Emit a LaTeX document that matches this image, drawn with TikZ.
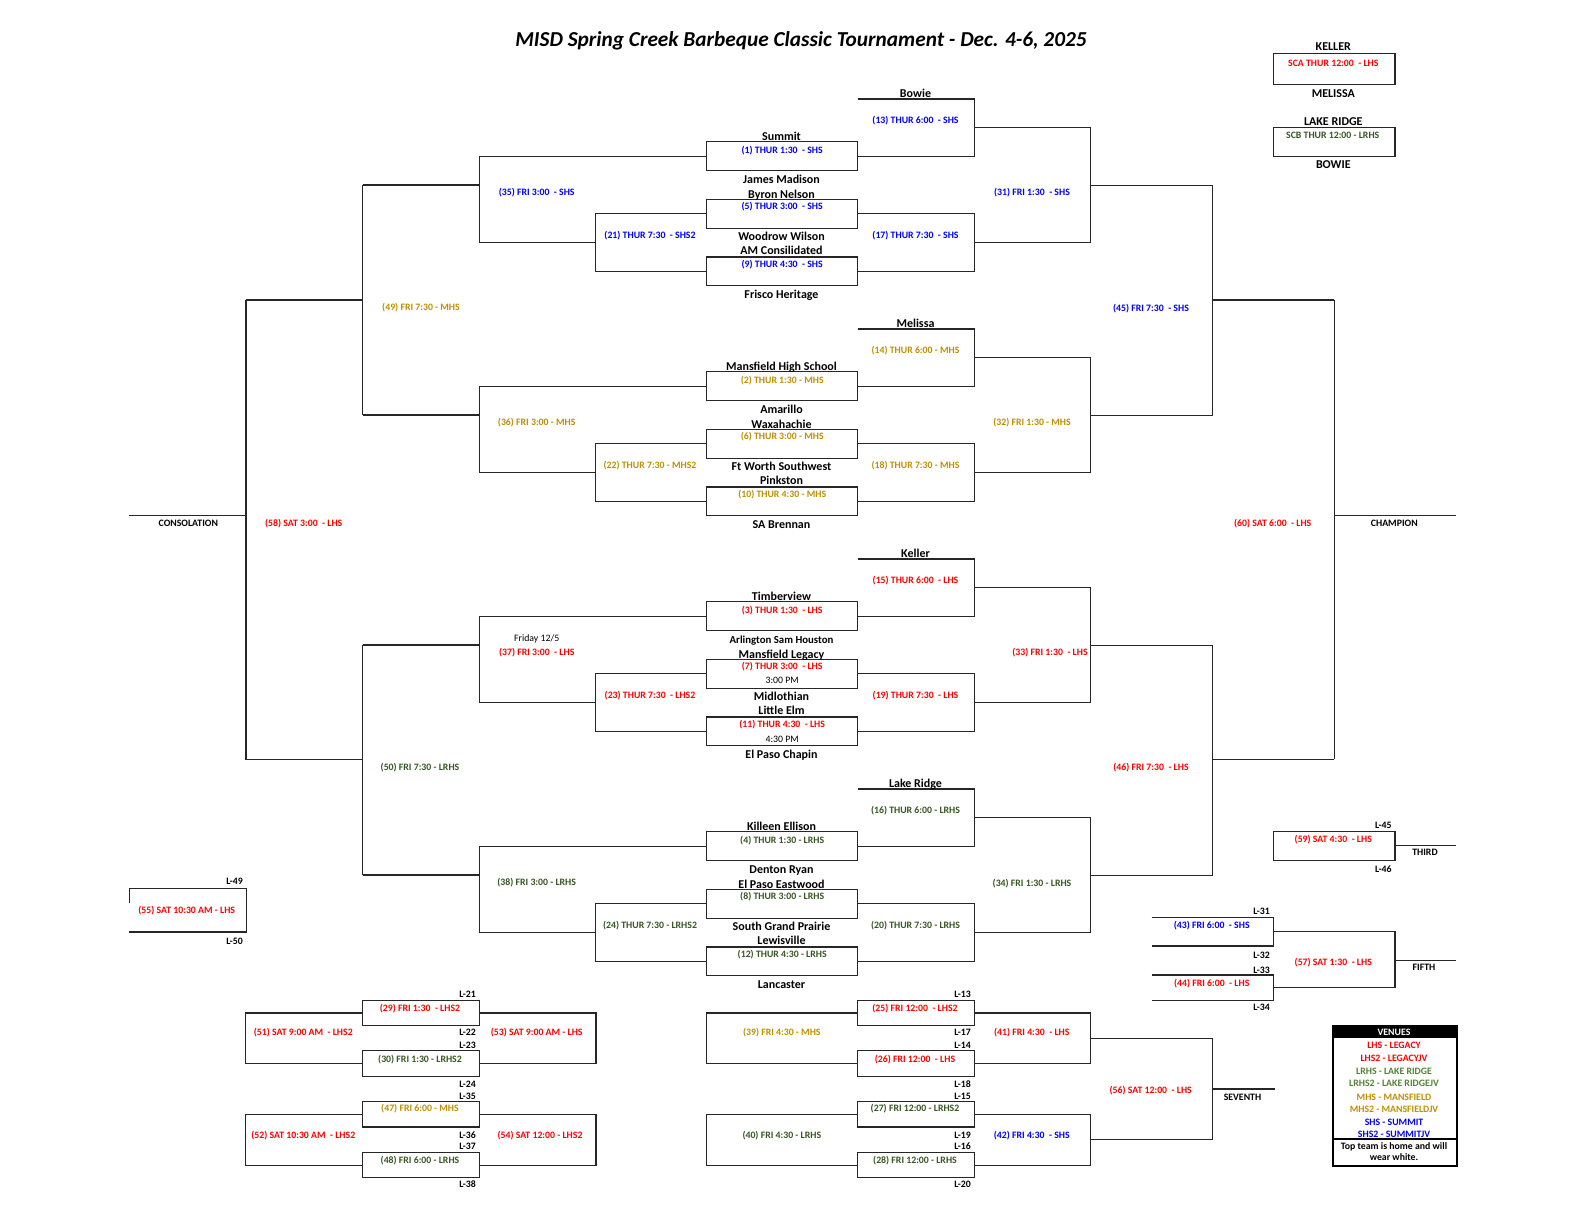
\documentclass[tikz,border=0pt]{standalone}
\usepackage{fontspec}
\setmainfont{Carlito}
\definecolor{cblue}{HTML}{0000FF}
\definecolor{cred}{HTML}{FF0000}
\definecolor{cgold}{HTML}{BF9000}
\definecolor{cgreen}{HTML}{385723}
\definecolor{cgreenl}{HTML}{548235}
\tikzset{
  br/.style={line width=0.55pt, black!85},
  bx/.style={line width=0.65pt, black!85},
  gl/.style={font=\fontsize{4.9}{6}\selectfont\bfseries, inner sep=0pt, text height=3.2pt, text depth=0pt},
  gr/.style={font=\fontsize{4.9}{6}\selectfont, inner sep=0pt, text height=3.2pt, text depth=0pt},
  tm/.style={font=\fontsize{6.0}{7}\selectfont\bfseries, inner sep=0pt, text height=3.9pt, text depth=0pt},
  lb/.style={gl, anchor=east},
}
\begin{document}
\begin{tikzpicture}[x=0.5pt,y=-0.5pt]
\useasboundingbox (0,0) rectangle (1584,1224);
\fill[white] (0,0) rectangle (1584,1224);

% title
\node[font=\fontsize{10.65}{12}\selectfont\bfseries\itshape, inner sep=0pt, text height=6.8pt, text depth=0pt] (title) at (801,39.4) {MISD Spring Creek Barbeque Classic Tournament - Dec. 4-6, 2025};

% ---------- quadrant structure ----------
\foreach \Q in {0,230,460,690} {
  \draw[bx] (706.8,141.7+\Q) rectangle (857.6,170.7+\Q);
  \draw[bx] (706.8,199.3+\Q) rectangle (857.6,228.3+\Q);
  \draw[bx] (706.8,257+\Q) rectangle (857.6,285.7+\Q);
  % right round 2
  \draw[br] (857.6,99+\Q) -- (974.2,99+\Q) -- (974.2,156.2+\Q) -- (857.6,156.2+\Q);
  \draw[br] (974.2,127.7+\Q) -- (1090.7,127.7+\Q);
  \draw[br] (857.6,213.8+\Q) -- (974.2,213.8+\Q) -- (974.2,271.3+\Q) -- (857.6,271.3+\Q);
  \draw[br] (974.2,242.6+\Q) -- (1090.7,242.6+\Q);
  \draw[br] (1090.7,127.7+\Q) -- (1090.7,242.6+\Q);
  \draw[br] (1090.7,185.3+\Q) -- (1212.5,185.3+\Q);
  % left round 2
  \draw[br] (706.8,213.8+\Q) -- (595.8,213.8+\Q) -- (595.8,271.3+\Q) -- (706.8,271.3+\Q);
  \draw[br] (595.8,242.6+\Q) -- (479.3,242.6+\Q);
  \draw[br] (706.8,156.2+\Q) -- (479.3,156.2+\Q) -- (479.3,242.6+\Q);
  \draw[br] (479.3,185+\Q) -- (362.5,185+\Q);
}
% level 3 / finals
\draw[br] (362.5,185) -- (362.5,415);
\draw[br] (362.5,300) -- (246,300);
\draw[br] (362.5,645) -- (362.5,875);
\draw[br] (362.5,759.7) -- (246,759.7);
\draw[br] (246,300) -- (246,759.7);
\draw[br] (246,515.4) -- (129.3,515.4);
\draw[br] (1212.5,185.3) -- (1212.5,415.3);
\draw[br] (1212.5,300) -- (1334.3,300);
\draw[br] (1212.5,645.3) -- (1212.5,875.3);
\draw[br] (1212.5,759.4) -- (1334.3,759.4);
\draw[br] (1334.3,300) -- (1334.3,759.4);
\draw[br] (1334.3,515.5) -- (1456,515.5);

% ---------- quadrant 1 (SHS) ----------
\node[tm] (tA0) at (915.5,93.8) {Bowie};
\node[gl,text=cblue] (g13) at (915.5,120.7) {(13) THUR 6:00~ - SHS};
\node[tm] (tA1) at (781.5,136.7) {Summit};
\node[gl,text=cblue] (g1) at (782.2,150) {(1) THUR 1:30~ - SHS};
\node[tm] (tA2) at (781.5,180) {James Madison};
\node[tm] (tA3) at (781.5,194.3) {Byron Nelson};
\node[gl,text=cblue] (g5) at (782.2,206.7) {(5) THUR 3:00~ - SHS};
\node[tm] (tA4) at (781.5,236.7) {Woodrow Wilson};
\node[tm] (tA5) at (781.5,251) {AM Consilidated};
\node[gl,text=cblue] (g9) at (782.2,264.3) {(9) THUR 4:30~ - SHS};
\node[tm] (tA6) at (781.5,295) {Frisco Heritage};
\node[gl,text=cblue] (g21) at (650,235.7) {(21) THUR 7:30~ - SHS2};
\node[gl,text=cblue] (g17) at (915.5,235.7) {(17) THUR 7:30~ - SHS};
\node[gl,text=cblue] (g35) at (536.7,192.7) {(35) FRI 3:00~ - SHS};
\node[gl,text=cblue] (g31) at (1032,192.8) {(31) FRI 1:30~ - SHS};

% ---------- quadrant 2 (MHS) ----------
\node[tm] (tB0) at (915.5,323.8) {Melissa};
\node[gl,text=cgold] (g14) at (915.5,350.7) {(14) THUR 6:00 - MHS};
\node[tm] (tB1) at (781.5,366.7) {Mansfield High School};
\node[gl,text=cgold] (g2) at (782.2,380) {(2) THUR 1:30 - MHS};
\node[tm] (tB2) at (781.5,410) {Amarillo};
\node[tm] (tB3) at (781.5,424.3) {Waxahachie};
\node[gl,text=cgold] (g6) at (782.2,436.7) {(6) THUR 3:00 - MHS};
\node[tm] (tB4) at (781.5,466.7) {Ft Worth Southwest};
\node[tm] (tB5) at (781.5,481) {Pinkston};
\node[gl,text=cgold] (g10) at (782.2,494.3) {(10) THUR 4:30 - MHS};
\node[tm] (tB6) at (781.5,525) {SA Brennan};
\node[gl,text=cgold] (g22) at (650,465.7) {(22) THUR 7:30 - MHS2};
\node[gl,text=cgold] (g18) at (915.5,465.7) {(18) THUR 7:30 - MHS};
\node[gl,text=cgold] (g36) at (536.7,422.7) {(36) FRI 3:00 - MHS};
\node[gl,text=cgold] (g32) at (1032,422.8) {(32) FRI 1:30 - MHS};

% ---------- quadrant 3 (LHS) ----------
\node[tm] (tC0) at (915.5,553.8) {Keller};
\node[gl,text=cred] (g15) at (915.5,580.7) {(15) THUR 6:00~ - LHS};
\node[tm] (tC1) at (781.5,596.7) {Timberview};
\node[gl,text=cred] (g3) at (782.2,610) {(3) THUR 1:30~ - LHS};
\node[tm,font=\fontsize{5.4}{6.5}\selectfont\bfseries] (tC2) at (781.5,640) {Arlington Sam Houston};
\node[tm] (tC3) at (781.5,654.3) {Mansfield Legacy};
\node[gl,text=cred] (g7) at (782.2,666.7) {(7) THUR 3:00~ - LHS};
\node[gr] (pm7) at (782.2,680.7) {3:00 PM};
\node[tm] (tC4) at (781.5,696.7) {Midlothian};
\node[tm] (tC5) at (781.5,711) {Little Elm};
\node[gl,text=cred] (g11) at (782.2,724.3) {(11) THUR 4:30~ - LHS};
\node[gr] (pm11) at (782.2,739) {4:30 PM};
\node[tm] (tC6) at (781.5,755) {El Paso Chapin};
\node[gl,text=cred] (g23) at (650,695.7) {(23) THUR 7:30~ - LHS2};
\node[gl,text=cred] (g19) at (915.5,695.7) {(19) THUR 7:30~ - LHS};
\node[gr] (fri) at (536.7,637.9) {Friday 12/5};
\node[gl,text=cred] (g37) at (536.7,651.8) {(37) FRI 3:00~ - LHS};
\node[gl,text=cred] (g33) at (1050,651.9) {(33) FRI 1:30~ - LHS};

% ---------- quadrant 4 (LRHS) ----------
\node[tm] (tD0) at (915.5,783.8) {Lake Ridge};
\node[gl,text=cgreen] (g16) at (915.5,810.7) {(16) THUR 6:00 - LRHS};
\node[tm] (tD1) at (781.5,826.7) {Killeen Ellison};
\node[gl,text=cgreen] (g4) at (782.2,840) {(4) THUR 1:30 - LRHS};
\node[tm] (tD2) at (781.5,870) {Denton Ryan};
\node[tm] (tD3) at (781.5,884.3) {El Paso Eastwood};
\node[gl,text=cgreen] (g8) at (782.2,896.7) {(8) THUR 3:00 - LRHS};
\node[tm] (tD4) at (781.5,926.7) {South Grand Prairie};
\node[tm] (tD5) at (781.5,941) {Lewisville};
\node[gl,text=cgreen] (g12) at (782.2,954.3) {(12) THUR 4:30 - LRHS};
\node[tm] (tD6) at (781.5,985) {Lancaster};
\node[gl,text=cgreen] (g24) at (650,925.7) {(24) THUR 7:30 - LRHS2};
\node[gl,text=cgreen] (g20) at (915.5,925.7) {(20) THUR 7:30 - LRHS};
\node[gl,text=cgreen] (g38) at (536.7,882.7) {(38) FRI 3:00 - LRHS};
\node[gl,text=cgreen] (g34) at (1032,882.8) {(34) FRI 1:30 - LRHS};

% ---------- level 3 labels ----------
\node[gl,text=cgold] (g49) at (421,307.5) {(49) FRI 7:30 - MHS};
\node[gl,text=cgreen] (g50) at (420,767) {(50) FRI 7:30 - LRHS};
\node[gl,text=cblue] (g45) at (1151,307.9) {(45) FRI 7:30~ - SHS};
\node[gl,text=cred] (g46) at (1151,767) {(46) FRI 7:30~ - LHS};
\node[gl,text=cred] (g58) at (303.7,522.9) {(58) SAT 3:00~ - LHS};
\node[gl,text=cred] (g60) at (1272.7,523) {(60) SAT 6:00~ - LHS};
\node[gl] (cons) at (188.3,522.9) {CONSOLATION};
\node[gl] (champ) at (1394.3,523) {CHAMPION};

% ---------- game 55 ----------
\draw[br] (129.3,903) -- (129.3,888.7) -- (246.3,888.7) -- (246.3,932) -- (129.3,932);
\node[gl,text=cred] (g55) at (186.7,910.7) {(55) SAT 10:30 AM - LHS};
\node[lb] (l49) at (243.3,881.7) {L-49};
\node[lb] (l50) at (243.3,941) {L-50};

% ---------- bottom left consolation ----------
\draw[bx] (362.3,1000.3) rectangle (479.3,1025.3);
\draw[bx] (362.3,1050.7) rectangle (479.3,1076.3);
\draw[bx] (362.3,1101.7) rectangle (479.3,1127);
\draw[bx] (362.3,1152.3) rectangle (479.3,1177.7);
\draw[br] (362.3,1013) -- (245.7,1013) -- (245.7,1063.5) -- (362.3,1063.5);
\draw[br] (479.3,1013) -- (596,1013) -- (596,1063.5) -- (479.3,1063.5);
\draw[br] (362.3,1114.3) -- (245.7,1114.3) -- (245.7,1165.3) -- (362.3,1165.3);
\draw[br] (479.3,1114.3) -- (596,1114.3) -- (596,1165.3) -- (479.3,1165.3);
\node[gl,text=cred] (g29) at (420,1008) {(29) FRI 1:30~ - LHS2};
\node[gl,text=cgreen] (g30) at (420,1059.3) {(30) FRI 1:30 - LRHS2};
\node[gl,text=cgold] (g47) at (420,1108.7) {(47) FRI 6:00 - MHS};
\node[gl,text=cgreen] (g48) at (420,1160.3) {(48) FRI 6:00 - LRHS};
\node[gl,text=cred] (g51) at (303.3,1032.7) {(51) SAT 9:00 AM~ - LHS2};
\node[gl,text=cred] (g53) at (536.7,1032.7) {(53) SAT 9:00 AM - LHS};
\node[gl,text=cred] (g52) at (303.3,1135) {(52) SAT 10:30 AM~ - LHS2};
\node[gl,text=cred] (g54) at (540,1135) {(54) SAT 12:00 - LHS2};
\node[lb] (l21) at (476.3,994.7) {L-21};
\node[lb] (l22) at (476.3,1032.7) {L-22};
\node[lb] (l23) at (476.3,1045.7) {L-23};
\node[lb] (l24) at (476.3,1084) {L-24};
\node[lb] (l35) at (476.3,1096.7) {L-35};
\node[lb] (l36) at (476.3,1135) {L-36};
\node[lb] (l37) at (476.3,1146.7) {L-37};
\node[lb] (l38) at (476.3,1184.7) {L-38};

% ---------- bottom middle consolation ----------
\draw[bx] (857.5,1000.3) rectangle (974.3,1025.3);
\draw[bx] (857.5,1050.7) rectangle (974.3,1076.3);
\draw[bx] (857.5,1101.7) rectangle (974.3,1127);
\draw[bx] (857.5,1152.3) rectangle (974.3,1177.7);
\draw[br] (857.5,1013) -- (706.8,1013) -- (706.8,1063.5) -- (857.5,1063.5);
\draw[br] (974.3,1013) -- (1090.4,1013) -- (1090.4,1063.5) -- (974.3,1063.5);
\draw[br] (857.5,1114.3) -- (706.8,1114.3) -- (706.8,1165.3) -- (857.5,1165.3);
\draw[br] (974.3,1114.3) -- (1090.4,1114.3) -- (1090.4,1165.3) -- (974.3,1165.3);
\draw[br] (1090.4,1038.3) -- (1212.5,1038.3) -- (1212.5,1139.8) -- (1090.4,1139.8);
\draw[br] (1212.5,1089) -- (1275,1089);
\node[gl,text=cred] (g25) at (915,1008) {(25) FRI 12:00~ - LHS2};
\node[gl,text=cred] (g26) at (915,1059.3) {(26) FRI 12:00~ - LHS};
\node[gl,text=cgreen] (g27) at (915,1108.7) {(27) FRI 12:00 - LRHS2};
\node[gl,text=cgreen] (g28) at (915,1160.3) {(28) FRI 12:00 - LRHS};
\node[gl,text=cgold] (g39) at (781.8,1032.7) {(39) FRI 4:30 - MHS};
\node[gl,text=cgreen] (g40) at (781.8,1135) {(40) FRI 4:30 - LRHS};
\node[gl,text=cred] (g41) at (1031.8,1032.7) {(41) FRI 4:30~ - LHS};
\node[gl,text=cblue] (g42) at (1031.8,1135) {(42) FRI 4:30~ - SHS};
\node[gl,text=cred] (g56) at (1150.7,1090) {(56) SAT 12:00~ - LHS};
\node[gl] (sev) at (1242.5,1097) {SEVENTH};
\node[lb] (l13) at (971.3,994.7) {L-13};
\node[lb] (l17) at (971.3,1032.7) {L-17};
\node[lb] (l14) at (971.3,1045.7) {L-14};
\node[lb] (l18) at (971.3,1084) {L-18};
\node[lb] (l15) at (971.3,1096.7) {L-15};
\node[lb] (l19) at (971.3,1135) {L-19};
\node[lb] (l16) at (971.3,1146.7) {L-16};
\node[lb] (l20) at (971.3,1184.7) {L-20};

% ---------- third / fifth ----------
\draw[bx] (1273.3,831.7) rectangle (1395,860.3);
\draw[br] (1395,845.7) -- (1456,845.7);
\node[gl,text=cred] (g59) at (1333.3,839) {(59) SAT 4:30~ - LHS};
\node[lb] (l45) at (1392,825) {L-45};
\node[lb] (l46) at (1392,869) {L-46};
\node[gl] (third) at (1425,852.7) {THIRD};

\draw[br] (1151.7,917.3) -- (1273.3,917.3) -- (1273.3,946) -- (1151.7,946);
\draw[br] (1151.7,975) -- (1273.3,975) -- (1273.3,1000.3) -- (1151.7,1000.3);
\draw[br] (1273.3,931.7) -- (1395,931.7) -- (1395,987.7) -- (1273.3,987.7);
\draw[br] (1395,960.7) -- (1456,960.7);
\node[gl,text=cblue] (g43) at (1211.7,925) {(43) FRI 6:00~ - SHS};
\node[gl,text=cred] (g44) at (1211.7,983) {(44) FRI 6:00~ - LHS};
\node[gl,text=cred] (g57) at (1333.3,962) {(57) SAT 1:30~ - LHS};
\node[lb] (l31) at (1270.3,911) {L-31};
\node[lb] (l32) at (1270.3,955) {L-32};
\node[lb] (l33) at (1270.3,970) {L-33};
\node[lb] (l34) at (1270.3,1007.3) {L-34};
\node[gl] (fifth) at (1424,967.7) {FIFTH};

% ---------- top right scrimmages ----------
\draw[bx] (1273.3,53.3) rectangle (1395,84.3);
\draw[bx] (1273.3,127.3) rectangle (1395,156.7);
\node[tm] (keller) at (1333.3,46.7) {KELLER};
\node[gl,text=cred] (sca) at (1333.3,63.3) {SCA THUR 12:00~ - LHS};
\node[tm] (melissa) at (1333.3,94) {MELISSA};
\node[tm] (lakeridge) at (1333.3,121.7) {LAKE RIDGE};
\node[gl,text=cgreen] (scb) at (1332.7,135.3) {SCB THUR 12:00 - LRHS};
\node[tm] (bowie) at (1333.3,165) {BOWIE};

% ---------- legend ----------
\fill[black] (1332.7,1025.7) rectangle (1456.7,1038.3);
\draw[line width=1.1pt] (1332.7,1025.7) rectangle (1456.7,1165.7);
\draw[line width=1pt] (1332.7,1139) -- (1456.7,1139);
\node[gl,text=white] (ven) at (1394,1032.5) {VENUES};
\node[gl,text=cred] (v1) at (1394,1045.7) {LHS - LEGACY};
\node[gl,text=cred] (v2) at (1394,1058.7) {LHS2 - LEGACYJV};
\node[gl,text=cgreenl] (v3) at (1394,1071.3) {LRHS - LAKE RIDGE};
\node[gl,text=cgreenl] (v4) at (1394,1083.3) {LRHS2 - LAKE RIDGEJV};
\node[gl,text=cgold] (v5) at (1394,1097.3) {MHS - MANSFIELD};
\node[gl,text=cgold] (v6) at (1394,1109) {MHS2 - MANSFIELDJV};
\node[gl,text=cblue] (v7) at (1394,1122) {SHS - SUMMIT};
\node[gl,text=cblue] (v8) at (1394,1134.3) {SHS2 - SUMMITJV};
\node[gl] (n1) at (1394,1146.7) {Top team is home and will};
\node[gl] (n2) at (1394,1157) {wear white.};
\end{tikzpicture}
\end{document}
